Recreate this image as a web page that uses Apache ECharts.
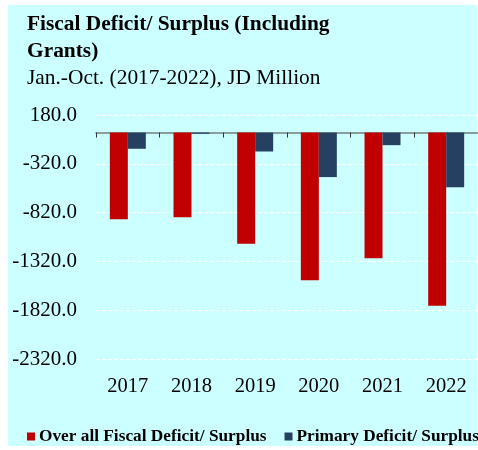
<!DOCTYPE html>
<html>
<head>
<meta charset="utf-8">
<script src="https://cdn.jsdelivr.net/npm/echarts@6/dist/echarts.min.js"></script>
<style>
  html, body { margin: 0; padding: 0; background: #fff; }
  #bg { position: absolute; left: 8px; top: 5px; width: 469px; height: 441px; background: #CCFFFF; }
  #chart { position: absolute; left: 0; top: 0; width: 478px; height: 450px; }
</style>
</head>
<body>
<div id="bg"></div>
<div id="chart"></div>
<script>
// data (JD million)
var years = ['2017', '2018', '2019', '2020', '2021', '2022'];
var overallDeficit = [-888, -867, -1139, -1513, -1289, -1775];
var primaryDeficit = [-166, -12, -194, -456, -129, -561];
var yMin = -2320;
var yMax = 180;
var yStep = 500;

var serif = '"Liberation Serif", "Times New Roman", serif';
var chart = echarts.init(document.getElementById('chart'));

var option = {
  backgroundColor: 'transparent',
  title: {
    text: 'Fiscal Deficit/ Surplus (Including\nGrants)',
    subtext: 'Jan.-Oct. (2017-2022), JD Million',
    left: 27,
    top: 11,
    padding: 0,
    itemGap: 0,
    textStyle: { fontFamily: serif, fontSize: 21.4, fontWeight: 'bold', color: '#000', lineHeight: 27 },
    subtextStyle: { fontFamily: serif, fontSize: 21.4, color: '#000', lineHeight: 27 }
  },
  legend: {
    left: 27,
    top: 428,
    width: 470,
    padding: 0,
    icon: 'rect',
    itemWidth: 8,
    itemHeight: 8,
    itemGap: 18,
    textStyle: { fontFamily: serif, fontSize: 17.3, fontWeight: 'bold', color: '#000', padding: [0, 0, 0, -1] },
    data: ['Over all Fiscal Deficit/ Surplus', 'Primary Deficit/ Surplus']
  },
  grid: {
    left: 96,
    right: 0,
    top: 115,
    bottom: 91,
    containLabel: false
  },
  xAxis: [
    {
      // line at zero with ticks between the years
      type: 'category',
      position: 'bottom',
      data: years,
      axisLine: { onZero: true, lineStyle: { color: '#6f7f7f', width: 1.5 } },
      axisTick: { show: true, length: 5, lineStyle: { color: '#333', width: 1 } },
      axisLabel: { show: false }
    },
    {
      // year labels at the bottom
      type: 'category',
      position: 'bottom',
      data: years,
      axisLine: { show: false, onZero: false },
      axisTick: { show: false },
      axisLabel: { fontFamily: serif, fontSize: 20.5, color: '#000', margin: 17 }
    }
  ],
  yAxis: {
    type: 'value',
    min: yMin,
    max: yMax,
    interval: yStep,
    axisLine: { show: false },
    axisTick: { show: false },
    axisLabel: {
      fontFamily: serif, fontSize: 21, color: '#000', margin: 19,
      formatter: function(v) { return v.toFixed(1); }
    },
    splitLine: { lineStyle: { color: '#ffffff', type: 'dashed', width: 1 } }
  },
  series: [
    {
      name: 'Over all Fiscal Deficit/ Surplus',
      type: 'bar',
      xAxisIndex: 0,
      barWidth: 18,
      barGap: '0%',
      data: overallDeficit,
      itemStyle: { color: '#C00000' }
    },
    {
      name: 'Primary Deficit/ Surplus',
      type: 'bar',
      xAxisIndex: 0,
      barWidth: 18,
      barGap: '0%',
      data: primaryDeficit,
      itemStyle: { color: '#254061' }
    }
  ]
};

chart.setOption(option);
</script>
</body>
</html>
